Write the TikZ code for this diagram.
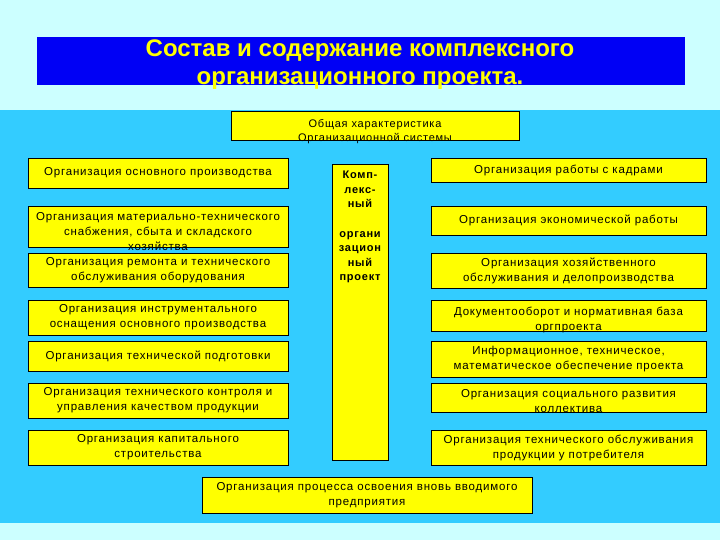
\documentclass[tikz,border=0pt]{standalone}
\usepackage{fontspec}
\setmainfont{Liberation Sans}
\newfontfamily\spacedfont[LetterSpace=7]{Liberation Sans}
\definecolor{lightcyan}{RGB}{204,255,255}
\definecolor{midcyan}{RGB}{51,204,255}
\definecolor{titleblue}{RGB}{0,0,245}
\definecolor{boxyellow}{RGB}{255,255,0}
\tikzset{
  box/.style={draw=black, fill=boxyellow, line width=0.8pt, inner sep=0pt, align=center,
    font=\spacedfont\fontsize{11.5}{15}\selectfont},
  txt/.style={inner sep=0pt, align=center, font=\spacedfont\fontsize{11.5}{15}\selectfont},
  titlebox/.style={fill=titleblue, inner sep=0pt}
}
\begin{document}
\begin{tikzpicture}[x=1pt,y=-1pt]
\useasboundingbox (0,0) rectangle (720,540);
\fill[lightcyan] (0,0) rectangle (720,540);
\fill[midcyan] (0,110) rectangle (720,523);
% title
\node[titlebox, minimum width=648, minimum height=48] (title) at (361,61) {};
\node[txt, text=boxyellow, font=\fontsize{24}{28}\selectfont\bfseries] (titletext) at (360,65)
  {Состав и содержание комплексного\\организационного проекта.};
% top box
\node[box, minimum width=288, minimum height=29] (top) at (375,125.5) {};
\node[txt, font=\spacedfont\fontsize{11}{14}\selectfont] (toptext) at (375,132)
  {Общая характеристика\\Организационной системы};
% left column
\node[box, minimum width=260, minimum height=30] (L1) at (158,173) {Организация основного производства};
\node[box, minimum width=260, minimum height=41] (L2) at (158,226.5) {};
\node[txt] (L2text) at (158,232) {Организация материально-технического\\снабжения, сбыта и складского\\хозяйства};
\node[box, minimum width=260, minimum height=34] (L3) at (158,270) {Организация ремонта и технического\\обслуживания оборудования};
\node[box, minimum width=260, minimum height=35] (L4) at (158,317.5) {Организация инструментального\\оснащения основного производства};
\node[box, minimum width=260, minimum height=30] (L5) at (158,356) {Организация технической подготовки};
\node[box, minimum width=260, minimum height=35] (L6) at (158,400.5) {Организация технического контроля и\\управления качеством продукции};
\node[box, minimum width=260, minimum height=35] (L7) at (158,447.5) {Организация капитального\\строительства};
% center column
\node[box, minimum width=56, minimum height=296] (C) at (360,312) {};
\node[txt, anchor=north, font=\spacedfont\fontsize{11}{14.6}\selectfont\bfseries] (Ctext) at (360,171)
  {Комп-\\лекс-\\ный\\[14.6pt]органи\\зацион\\ный\\проект};
% right column
\node[box, minimum width=275, minimum height=24] (R1) at (568.5,170) {Организация работы с кадрами};
\node[box, minimum width=275, minimum height=29] (R2) at (568.5,220.5) {Организация экономической работы};
\node[box, minimum width=275, minimum height=35] (R3) at (568.5,270.5) {Организация хозяйственного\\обслуживания и делопроизводства};
\node[box, minimum width=275, minimum height=31] (R4) at (568.5,315.5) {};
\node[txt] (R4text) at (568.5,319.5) {Документооборот и нормативная база\\оргпроекта};
\node[box, minimum width=275, minimum height=36] (R5) at (568.5,359) {Информационное, техническое,\\математическое обеспечение проекта};
\node[box, minimum width=275, minimum height=29] (R6) at (568.5,397.5) {};
\node[txt] (R6text) at (568.5,401.5) {Организация социального развития\\коллектива};
\node[box, minimum width=275, minimum height=35] (R7) at (568.5,447.5) {Организация технического обслуживания\\продукции у потребителя};
% bottom
\node[box, minimum width=330, minimum height=36] (B) at (367,495) {Организация процесса освоения вновь вводимого\\предприятия};
\end{tikzpicture}
\end{document}
